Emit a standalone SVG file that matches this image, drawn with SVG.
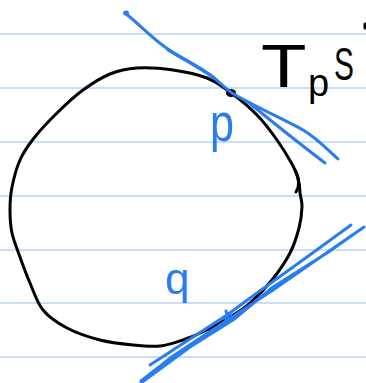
<svg xmlns="http://www.w3.org/2000/svg" width="366" height="383" viewBox="0 0 366 383">
  <style>
    .rule { stroke: #cadefa; stroke-width: 2; }
    .ink { fill: none; stroke: #000; stroke-width: 3; stroke-linecap: round; stroke-linejoin: round; }
    .blue { fill: none; stroke: #2a7cf0; stroke-width: 3; stroke-linecap: round; stroke-linejoin: round; }
    .lblk { font-family: "Liberation Sans", Arial, sans-serif; fill: #000; }
    .lblu { font-family: "Liberation Sans", Arial, sans-serif; fill: #2a7cf0; }
  </style>
  <rect width="366" height="383" fill="#fff"/>
  <g id="paper">
    <line class="rule" x1="0" y1="34" x2="366" y2="34"/>
    <line class="rule" x1="0" y1="88" x2="366" y2="88"/>
    <line class="rule" x1="0" y1="142" x2="366" y2="142"/>
    <line class="rule" x1="0" y1="196" x2="366" y2="196"/>
    <line class="rule" x1="0" y1="250" x2="366" y2="250"/>
    <line class="rule" x1="0" y1="303" x2="366" y2="303"/>
    <line class="rule" x1="0" y1="357" x2="366" y2="357"/>
  </g>
  <g id="surface">
    <path class="ink" d="M300,193 C300.7,197.8 302.2,201.2 302,207 C301.8,212.8 301,220.3 299,228 C297,235.7 294.5,244.3 290,253 C285.5,261.7 278.7,271.7 272,280 C265.3,288.3 257,296.8 250,303 C243,309.2 237.2,312.5 230,317 C222.8,321.5 214.8,326.2 207,330 C199.2,333.8 190.8,337.3 183,340 C175.2,342.7 168.3,345.2 160,346 C151.7,346.8 143,346 133,345 C123,344 111,342.8 100,340 C89,337.2 76.5,333 67,328 C57.5,323 49.2,317.5 43,310 C36.8,302.5 33.8,291.8 30,283 C26.2,274.2 23,265.3 20,257 C17,248.7 13.7,240.8 12,233 C10.3,225.2 10,217.7 10,210 C10,202.3 10.3,195.3 12,187 C13.7,178.7 16.3,168.2 20,160 C23.7,151.8 27.7,146 34,138 C40.3,130 49.8,120 58,112 C66.2,104 74.3,96.3 83,90 C91.7,83.7 101,77.7 110,74 C119,70.3 126.5,68.7 137,68 C147.5,67.3 161.3,68.3 173,70 C184.7,71.7 197.5,74.3 207,78 C216.5,81.7 221.7,86 230,92 C238.3,98 249.2,107 257,115 C264.8,123 271.2,131.8 277,140 C282.8,148.2 288.5,157.7 292,164 C295.5,170.3 296.7,173.2 298,178 C299.3,182.8 300,188.2 300,193"/>
    <path class="ink" d="M295,170 C299,178 300,186 296,192" stroke-width="2"/>
    <path class="ink" d="M365,24 L365,28" stroke-width="2"/>
  </g>
  <g id="point-p">
    <ellipse cx="231" cy="93" rx="5" ry="4" fill="#000"/>
  </g>
  <g id="tangent-p">
    <path class="blue" d="M125,13 C140,25 150,36 165,47 C180,58 200,66 213,77 C220,83 225,88 232,93 C250,104 285,120 303,130 C318,139 328,150 338,159"/>
    <path class="blue" d="M168,50 C185,60 200,68 214,78" stroke-width="2"/>
    <path class="blue" d="M248,102 C270,120 300,144 325,163"/>
    <ellipse cx="126" cy="13" rx="3" ry="2.5" fill="#2a7cf0"/>
  </g>
  <g id="point-q">
    <circle cx="229" cy="318" r="3.5" fill="none" stroke="#2a7cf0" stroke-width="2.5"/>
    <path class="blue" d="M226,311 L228,317" stroke-width="2"/>
  </g>
  <g id="tangent-q">
    <path class="blue" d="M150,365 L193,337 L227,315 L257,293 L307,257 L351,225" stroke-width="2.5"/>
    <path class="blue" d="M141,381 L173,356 L223,323 L273,290 L364,227 L327,253 L273,287 L233,320 L190,347 L141,383" stroke-width="2.5"/>
  </g>
  <g id="labels">
    <text class="lblk" transform="translate(261,87) scale(1.2,1)" font-size="62">T</text>
    <text class="lblk" x="308" y="96" font-size="38">p</text>
    <text class="lblk" transform="translate(334,80) scale(0.65,1)" font-size="46">S</text>
    <text class="lblu" transform="translate(210,141) scale(0.8,1)" font-size="54">p</text>
    <text class="lblu" x="165" y="294" font-size="44">q</text>
  </g>
</svg>
